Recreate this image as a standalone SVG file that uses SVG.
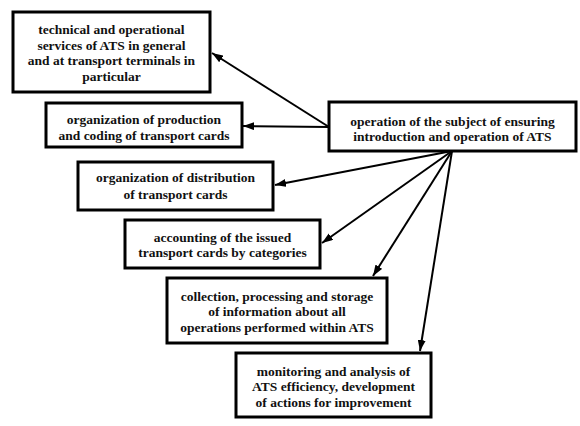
<svg xmlns="http://www.w3.org/2000/svg" width="580" height="426" viewBox="0 0 580 426">
<style>
.box{fill:#fff;stroke:#000;stroke-width:3}
.t{font-family:"Liberation Serif","DejaVu Serif",serif;font-weight:bold;font-size:13.5px;fill:#111;text-anchor:middle}
.c{stroke:#000;stroke-width:2;fill:none;marker-end:url(#ah)}
</style>
<defs>
<marker id="ah" markerUnits="userSpaceOnUse" markerWidth="12" markerHeight="8" refX="11" refY="4" orient="auto">
<path d="M0,0 L11,4 L0,8 z" fill="#000"/>
</marker>
</defs>
<rect width="580" height="426" fill="#fff"/>
<g id="connectors">
<line class="c" x1="329" y1="127" x2="212" y2="53"/>
<line class="c" x1="329" y1="127" x2="243" y2="126"/>
<line class="c" x1="452" y1="151" x2="275" y2="185"/>
<line class="c" x1="452" y1="151" x2="322" y2="243"/>
<line class="c" x1="452" y1="151" x2="373" y2="276"/>
<line class="c" x1="452" y1="151" x2="420" y2="351"/>
</g>
<g id="n1">
<rect class="box" x="13" y="12" width="197" height="80"/>
<text class="t" x="111.5" y="34">technical and operational</text>
<text class="t" x="111.5" y="49.5">services of ATS in general</text>
<text class="t" x="111.5" y="65">and at transport terminals in</text>
<text class="t" x="111.5" y="80.5">particular</text>
</g>
<g id="n2">
<rect class="box" x="46" y="103" width="196" height="44"/>
<text class="t" x="144" y="124">organization of production</text>
<text class="t" x="144" y="140">and coding of transport cards</text>
</g>
<g id="center">
<rect class="box" x="329" y="102" width="247" height="49"/>
<text class="t" x="452.5" y="126">operation of the subject of ensuring</text>
<text class="t" x="452.5" y="141">introduction and operation of ATS</text>
</g>
<g id="n3">
<rect class="box" x="78" y="162" width="195" height="48"/>
<text class="t" x="175.5" y="182">organization of distribution</text>
<text class="t" x="175.5" y="199">of transport cards</text>
</g>
<g id="n4">
<rect class="box" x="125" y="220" width="195" height="48"/>
<text class="t" x="222.5" y="242">accounting of the issued</text>
<text class="t" x="222.5" y="257">transport cards by categories</text>
</g>
<g id="n5">
<rect class="box" x="167" y="278" width="220" height="65"/>
<text class="t" x="277" y="301">collection, processing and storage</text>
<text class="t" x="277" y="316">of information about all</text>
<text class="t" x="277" y="332">operations performed within ATS</text>
</g>
<g id="n6">
<rect class="box" x="236" y="353" width="195" height="64"/>
<text class="t" x="333.5" y="376">monitoring and analysis of</text>
<text class="t" x="333.5" y="391">ATS efficiency, development</text>
<text class="t" x="333.5" y="407">of actions for improvement</text>
</g>
</svg>
